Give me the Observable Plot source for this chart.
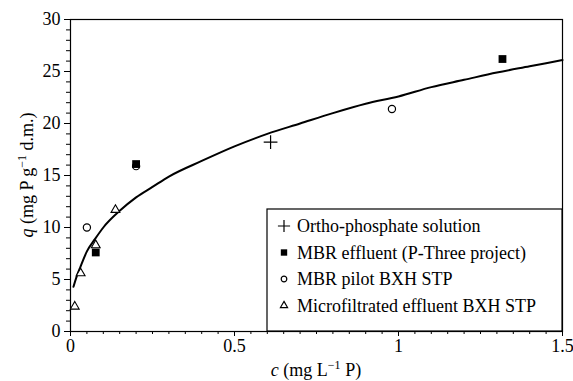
<!DOCTYPE html>
<html><head><meta charset="utf-8">
<script src="https://cdn.jsdelivr.net/npm/d3@7"></script>
<script src="https://cdn.jsdelivr.net/npm/@observablehq/plot@0.6"></script>
<style>
body{margin:0;background:#fff;}
#chart{width:573px;height:381px;}
</style>
</head><body><div id="chart"></div>
<script>
const seriesNames = ["Ortho-phosphate solution", "MBR effluent (P-Three project)", "MBR pilot BXH STP", "Microfiltrated effluent BXH STP"];
const orthoC = [0.61];
const orthoQ = [18.2];
const mbrEffC = [0.077, 0.2, 1.317];
const mbrEffQ = [7.6, 16.1, 26.2];
const mbrPilotC = [0.05, 0.2, 0.98];
const mbrPilotQ = [10.0, 15.9, 21.4];
const microC = [0.013, 0.031, 0.077, 0.137];
const microQ = [2.4, 5.6, 8.3, 11.7];
const fitC = [0.009, 0.02, 0.03, 0.05, 0.075, 0.1, 0.15, 0.2, 0.25, 0.3, 0.4, 0.5, 0.6, 0.7, 0.8, 0.9, 1.0, 1.1, 1.2, 1.3, 1.4, 1.5];
const fitQ = [4.3, 5.4, 6.2, 7.7, 8.9, 10.0, 11.6, 12.9, 13.9, 14.9, 16.4, 17.8, 19.0, 20.0, 21.0, 21.9, 22.6, 23.5, 24.2, 24.9, 25.5, 26.1];
const xTicks = [0, 0.5, 1, 1.5];
const xTickLabels = ["0", "0.5", "1", "1.5"];
const xMinorTicks = [0,0.05,0.1,0.15,0.2,0.25,0.3,0.35,0.4,0.45,0.5,0.55,0.6,0.65,0.7,0.75,0.8,0.85,0.9,0.95,1,1.05,1.1,1.15,1.2,1.25,1.3,1.35,1.4,1.45,1.5];
const yTicks = [0, 5, 10, 15, 20, 25, 30];
const yMinorTicks = [0,1,2,3,4,5,6,7,8,9,10,11,12,13,14,15,16,17,18,19,20,21,22,23,24,25,26,27,28,29,30];

const zip = (c, q) => c.map((v, i) => ({c: v, q: q[i]}));
const ortho = zip(orthoC, orthoQ);
const mbrEff = zip(mbrEffC, mbrEffQ);
const mbrPilot = zip(mbrPilotC, mbrPilotQ);
const micro = zip(microC, microQ);
const fit = zip(fitC, fitQ);

const FONT = "Liberation Serif";

const plot = Plot.plot({
  width: 573, height: 381,
  marginLeft: 70, marginRight: 11, marginTop: 19, marginBottom: 50,
  style: "background: white; color: black; overflow: visible; font-family: Liberation Serif; font-size: 18px;",
  x: {domain: [0, 1.5]},
  y: {domain: [0, 30]},
  marks: [
    Plot.axisX({ticks: xMinorTicks, tickSize: 3, tickFormat: () => "", label: null, stroke: "black"}),
    Plot.axisX({ticks: xTicks, tickSize: 5, tickPadding: 3, tickFormat: (d, i) => xTickLabels[i], label: null, stroke: "black", fontSize: 18}),
    Plot.axisY({ticks: yMinorTicks, tickSize: 4, tickFormat: () => "", label: null, stroke: "black"}),
    Plot.axisY({ticks: yTicks, tickSize: 6, tickPadding: 4, tickFormat: d => String(d), label: null, stroke: "black", fontSize: 18}),
    Plot.frame({stroke: "black", strokeWidth: 1.2}),
    Plot.line(fit, {x: "c", y: "q", stroke: "black", strokeWidth: 2, curve: "monotone-x"}),
    Plot.dot(ortho, {x: "c", y: "q", symbol: "plus", r: 4.5, stroke: "black", strokeWidth: 1.2}),
    Plot.dot(mbrPilot, {x: "c", y: "q", symbol: "circle", r: 3.6, stroke: "black", fill: "white", strokeWidth: 1.2}),
    Plot.dot(micro, {x: "c", y: "q", symbol: "triangle2", r: 4.2, stroke: "black", fill: "white", strokeWidth: 1.1}),
    Plot.dot(mbrEff, {x: "c", y: "q", symbol: "square", r: 4.4, fill: "black", stroke: "none"})
  ]
});
plot.setAttribute("font-family", FONT);
document.getElementById("chart").appendChild(plot);

const svg = d3.select(plot);

// Legend
const lg = svg.append("g");
lg.append("rect").attr("x", 267).attr("y", 209).attr("width", 295).attr("height", 122)
  .attr("fill", "white").attr("stroke", "black").attr("stroke-width", 1.2);
const legendSymbols = [
  {sym: d3.symbolPlus, size: Math.PI * 4 * 4, fill: "none", stroke: "black"},
  {sym: d3.symbolSquare, size: Math.PI * 3.6 * 3.6, fill: "black", stroke: "none"},
  {sym: d3.symbolCircle, size: Math.PI * 2.8 * 2.8, fill: "white", stroke: "black"},
  {sym: d3.symbolTriangle2, size: Math.PI * 3.4 * 3.4, fill: "white", stroke: "black"}
];
const legendY0 = 226, legendStep = 26.5;
seriesNames.forEach((name, i) => {
  const y = legendY0 + i * legendStep;
  const s = legendSymbols[i];
  lg.append("path").attr("d", d3.symbol(s.sym, s.size)())
    .attr("transform", `translate(284,${y})`)
    .attr("fill", s.fill).attr("stroke", s.stroke).attr("stroke-width", 1.2);
  lg.append("text").attr("x", 297).attr("y", y).attr("dy", "0.35em").attr("text-anchor", "start")
    .attr("font-family", FONT).attr("font-size", 18).attr("fill", "black").text(name);
});

// Axis labels with italic symbol and superscript
const xl = svg.append("text").attr("x", 316).attr("y", 376).attr("text-anchor", "middle")
  .attr("font-family", FONT).attr("font-size", 18).attr("fill", "black");
xl.append("tspan").attr("font-style", "italic").text("c");
xl.append("tspan").text(" (mg L");
xl.append("tspan").attr("font-size", 12).attr("dy", -7).text("\u22121");
xl.append("tspan").attr("dy", 7).text(" P)");

const yl = svg.append("text").attr("transform", "translate(33,175) rotate(-90)").attr("text-anchor", "middle")
  .attr("font-family", FONT).attr("font-size", 18).attr("fill", "black");
yl.append("tspan").attr("font-style", "italic").text("q");
yl.append("tspan").text(" (mg P g");
yl.append("tspan").attr("font-size", 12).attr("dy", -7).text("\u22121");
yl.append("tspan").attr("dy", 7).text(" d.m.)");

plot.querySelectorAll("text").forEach(t => t.setAttribute("font-family", FONT));
</script>
</body></html>
